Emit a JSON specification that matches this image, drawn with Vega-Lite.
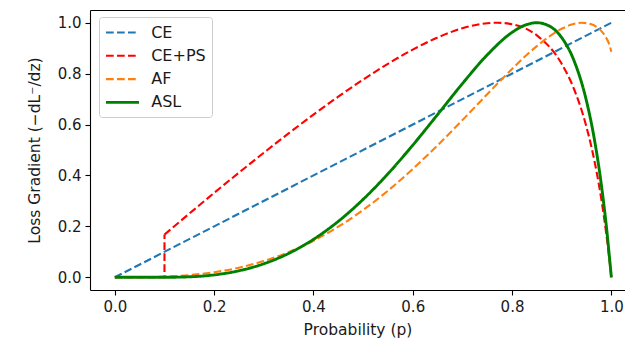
{
  "$schema": "https://vega.github.io/schema/vega-lite/v6.json",
  "autosize": "none",
  "width": 535,
  "height": 280,
  "padding": {"left": 90, "top": 10, "right": 0, "bottom": 48},
  "background": "white",
  "config": {
    "view": {"stroke": null},
    "font": "DejaVu Sans",
    "axis": {
      "grid": false,
      "domainColor": "#000000",
      "domainWidth": 1.1,
      "tickColor": "#000000",
      "tickWidth": 1.1,
      "tickSize": 5,
      "labelPadding": 4,
      "labelFont": "DejaVu Sans",
      "labelFontSize": 15,
      "labelColor": "#1a1a1a",
      "titleFont": "DejaVu Sans",
      "titleFontSize": 15.5,
      "titleFontWeight": "normal",
      "titleColor": "#1a1a1a"
    }
  },
  "datasets": {
    "curves": [
      {"p": 0.0, "g": 0.0, "s": "CE"},
      {"p": 1.0, "g": 1.0, "s": "CE"},

      {"p": 0.1, "g": 0.1677, "s": "CE+PS"},
      {"p": 0.15, "g": 0.2501, "s": "CE+PS"},
      {"p": 0.2, "g": 0.3313, "s": "CE+PS"},
      {"p": 0.25, "g": 0.4110, "s": "CE+PS"},
      {"p": 0.3, "g": 0.4891, "s": "CE+PS"},
      {"p": 0.35, "g": 0.5652, "s": "CE+PS"},
      {"p": 0.4, "g": 0.6389, "s": "CE+PS"},
      {"p": 0.45, "g": 0.7095, "s": "CE+PS"},
      {"p": 0.5, "g": 0.7764, "s": "CE+PS"},
      {"p": 0.55, "g": 0.8385, "s": "CE+PS"},
      {"p": 0.6, "g": 0.8944, "s": "CE+PS"},
      {"p": 0.65, "g": 0.9420, "s": "CE+PS"},
      {"p": 0.7, "g": 0.9782, "s": "CE+PS"},
      {"p": 0.75, "g": 0.9982, "s": "CE+PS"},
      {"p": 0.77, "g": 1.0, "s": "CE+PS"},
      {"p": 0.8, "g": 0.9938, "s": "CE+PS"},
      {"p": 0.85, "g": 0.9503, "s": "CE+PS"},
      {"p": 0.9, "g": 0.8385, "s": "CE+PS"},
      {"p": 0.925, "g": 0.7387, "s": "CE+PS"},
      {"p": 0.95, "g": 0.5901, "s": "CE+PS"},
      {"p": 0.96, "g": 0.5111, "s": "CE+PS"},
      {"p": 0.97, "g": 0.4171, "s": "CE+PS"},
      {"p": 0.98, "g": 0.3043, "s": "CE+PS"},
      {"p": 0.99, "g": 0.1677, "s": "CE+PS"},
      {"p": 0.995, "g": 0.0883, "s": "CE+PS"},
      {"p": 1.0, "g": 0.0, "s": "CE+PS"},

      {"p": 0.0, "g": 0.0, "s": "AF"},
      {"p": 0.05, "g": 0.0003, "s": "AF"},
      {"p": 0.1, "g": 0.0026, "s": "AF"},
      {"p": 0.15, "g": 0.0085, "s": "AF"},
      {"p": 0.2, "g": 0.0197, "s": "AF"},
      {"p": 0.25, "g": 0.0377, "s": "AF"},
      {"p": 0.3, "g": 0.0637, "s": "AF"},
      {"p": 0.35, "g": 0.0987, "s": "AF"},
      {"p": 0.4, "g": 0.1436, "s": "AF"},
      {"p": 0.45, "g": 0.1987, "s": "AF"},
      {"p": 0.5, "g": 0.2642, "s": "AF"},
      {"p": 0.55, "g": 0.3399, "s": "AF"},
      {"p": 0.6, "g": 0.4251, "s": "AF"},
      {"p": 0.65, "g": 0.5183, "s": "AF"},
      {"p": 0.7, "g": 0.6173, "s": "AF"},
      {"p": 0.75, "g": 0.7190, "s": "AF"},
      {"p": 0.8, "g": 0.8184, "s": "AF"},
      {"p": 0.85, "g": 0.9082, "s": "AF"},
      {"p": 0.9, "g": 0.9761, "s": "AF"},
      {"p": 0.92, "g": 0.9927, "s": "AF"},
      {"p": 0.94, "g": 0.9999, "s": "AF"},
      {"p": 0.96, "g": 0.9939, "s": "AF"},
      {"p": 0.97, "g": 0.9837, "s": "AF"},
      {"p": 0.98, "g": 0.9668, "s": "AF"},
      {"p": 0.99, "g": 0.9394, "s": "AF"},
      {"p": 0.995, "g": 0.9190, "s": "AF"},
      {"p": 1.0, "g": 0.8857, "s": "AF"},

      {"p": 0.0, "g": 0.0, "s": "ASL"},
      {"p": 0.05, "g": 0.0, "s": "ASL"},
      {"p": 0.1, "g": 0.0, "s": "ASL"},
      {"p": 0.15, "g": 0.0018, "s": "ASL"},
      {"p": 0.2, "g": 0.0093, "s": "ASL"},
      {"p": 0.25, "g": 0.0256, "s": "ASL"},
      {"p": 0.3, "g": 0.0530, "s": "ASL"},
      {"p": 0.35, "g": 0.0936, "s": "ASL"},
      {"p": 0.4, "g": 0.1489, "s": "ASL"},
      {"p": 0.45, "g": 0.2197, "s": "ASL"},
      {"p": 0.5, "g": 0.3059, "s": "ASL"},
      {"p": 0.55, "g": 0.4063, "s": "ASL"},
      {"p": 0.6, "g": 0.5188, "s": "ASL"},
      {"p": 0.65, "g": 0.6391, "s": "ASL"},
      {"p": 0.7, "g": 0.7607, "s": "ASL"},
      {"p": 0.75, "g": 0.8736, "s": "ASL"},
      {"p": 0.8, "g": 0.9620, "s": "ASL"},
      {"p": 0.825, "g": 0.9895, "s": "ASL"},
      {"p": 0.85, "g": 1.0, "s": "ASL"},
      {"p": 0.875, "g": 0.9871, "s": "ASL"},
      {"p": 0.9, "g": 0.9416, "s": "ASL"},
      {"p": 0.925, "g": 0.8502, "s": "ASL"},
      {"p": 0.95, "g": 0.6920, "s": "ASL"},
      {"p": 0.965, "g": 0.5511, "s": "ASL"},
      {"p": 0.98, "g": 0.3616, "s": "ASL"},
      {"p": 0.99, "g": 0.1996, "s": "ASL"},
      {"p": 1.0, "g": 0.0, "s": "ASL"}
    ],
    "jump": [
      {"p": 0.0, "g": 0.0, "s": "CE+PS"},
      {"p": 0.1, "g": 0.0, "s": "CE+PS"},
      {"p": 0.1, "g": 0.1677, "s": "CE+PS"}
    ]
  },
  "layer": [
    {
      "data": {"name": "jump"},
      "mark": {"type": "line", "interpolate": "linear", "clip": true},
      "encoding": {
        "x": {"field": "p", "type": "quantitative", "title": "Probability (p)",
              "scale": {"domain": [-0.05, 1.0275], "nice": false, "zero": false},
              "axis": {"orient": "top", "labels": false, "ticks": false, "title": null, "domain": true}},
        "y": {"field": "g", "type": "quantitative", "title": "Loss Gradient (−dL⁻/dz)",
              "scale": {"domain": [-0.05, 1.05], "nice": false, "zero": false}},
        "color": {"field": "s", "type": "nominal",
                  "scale": {"domain": ["CE", "CE+PS", "AF", "ASL"], "range": ["#1f77b4", "#ff0000", "#ff7f0e", "#008000"]}},
        "strokeDash": {"field": "s", "type": "nominal",
                       "scale": {"domain": ["CE", "CE+PS", "AF", "ASL"], "range": [[7.7, 3.3], [7.7, 3.3], [7.7, 3.3], [1, 0]]}},
        "strokeWidth": {"condition": {"test": "datum.s === 'ASL'", "value": 2.9}, "value": 2.1},
        "order": {"field": "p"}
      }
    },
    {
      "data": {"name": "curves"},
      "mark": {"type": "line", "interpolate": "monotone", "clip": true},
      "encoding": {
        "x": {"field": "p", "type": "quantitative", "title": "Probability (p)",
              "scale": {"domain": [-0.05, 1.0275], "nice": false, "zero": false},
              "axis": {"orient": "bottom", "values": [0, 0.2, 0.4, 0.6, 0.8, 1.0], "format": ".1f", "titlePadding": 8}},
        "y": {"field": "g", "type": "quantitative", "title": "Loss Gradient (−dL⁻/dz)",
              "scale": {"domain": [-0.05, 1.05], "nice": false, "zero": false},
              "axis": {"orient": "left", "values": [0, 0.2, 0.4, 0.6, 0.8, 1.0], "format": ".1f", "titlePadding": 15}},
        "color": {"field": "s", "type": "nominal",
                  "scale": {"domain": ["CE", "CE+PS", "AF", "ASL"], "range": ["#1f77b4", "#ff0000", "#ff7f0e", "#008000"]},
                  "legend": {"orient": "none", "legendX": 9, "legendY": 7, "title": null,
                             "symbolType": "M-2,0H2", "symbolSize": 272.25, "symbolOffset": 8,
                             "labelFont": "DejaVu Sans", "labelFontSize": 16, "labelColor": "#1a1a1a",
                             "labelOffset": 19.2, "padding": 6, "rowPadding": 5.3,
                             "fillColor": "rgba(255,255,255,0.8)", "strokeColor": "#cccccc", "cornerRadius": 3,
                             "encode": {"symbols": {"update": {"strokeWidth": {"signal": "(datum.value === 'ASL' ? 2.9 : 2.1)"}, "fill": {"value": "transparent"}}}}}},
        "strokeDash": {"field": "s", "type": "nominal",
                       "scale": {"domain": ["CE", "CE+PS", "AF", "ASL"], "range": [[7.7, 3.3], [7.7, 3.3], [7.7, 3.3], [1, 0]]}},
        "strokeWidth": {"condition": {"test": "datum.s === 'ASL'", "value": 2.9}, "value": 2.1},
        "order": {"field": "p"}
      }
    }
  ]
}
